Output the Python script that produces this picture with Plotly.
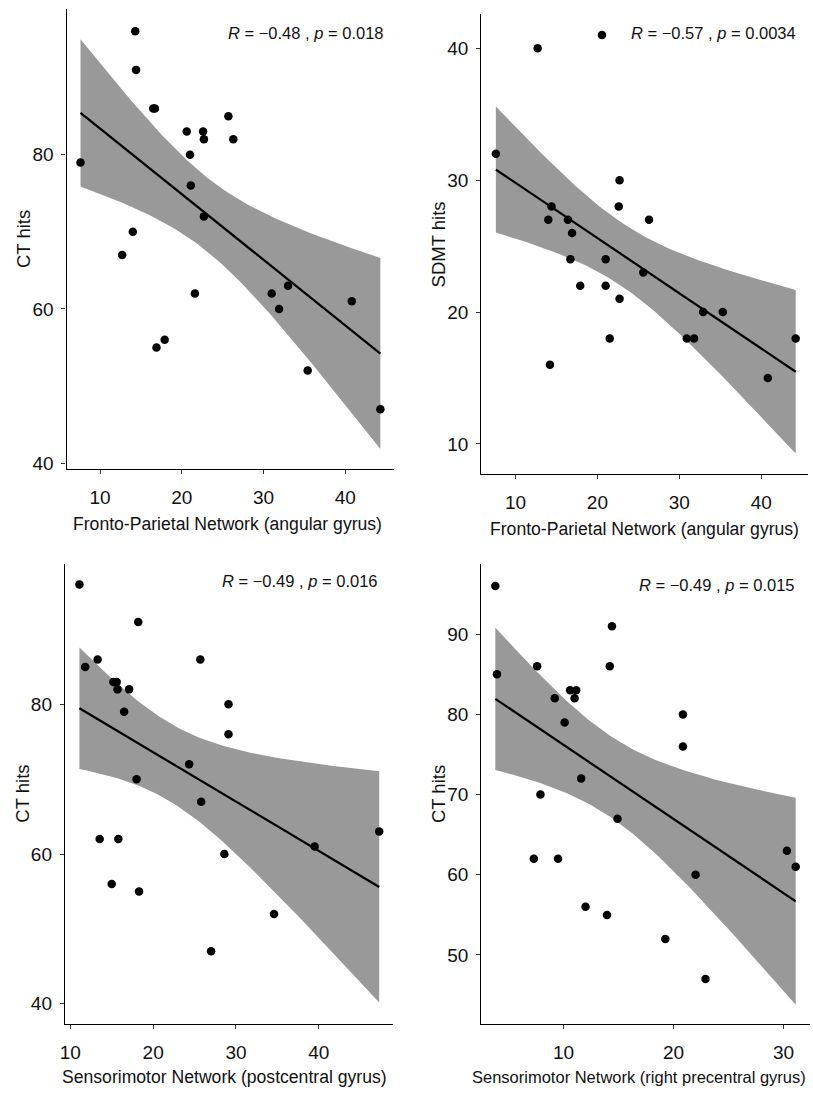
import math
import numpy as np
import plotly.graph_objects as go

# ---------------- data ----------------
# Panel 1: Fronto-Parietal Network (angular gyrus) vs CT hits
fp_ct_x = [7.6, 12.7, 14.0, 14.3, 14.4, 16.5, 16.7, 16.9, 17.9, 20.6, 21.0, 21.1,
           21.6, 22.6, 22.7, 22.7, 25.7, 26.3, 31.0, 31.9, 33.0, 35.4, 40.8, 44.3]
fp_ct_y = [79, 67, 70, 96, 91, 86, 86, 55, 56, 83, 80, 76,
           62, 83, 82, 72, 85, 82, 62, 60, 63, 52, 61, 47]

# Panel 2: Fronto-Parietal Network (angular gyrus) vs SDMT hits
fp_sdmt_x = [7.6, 12.7, 14.0, 14.2, 14.4, 16.4, 16.7, 16.9, 17.9, 20.55, 21.0, 21.0,
             21.5, 22.6, 22.7, 22.7, 25.6, 26.3, 30.9, 31.8, 32.9, 35.3, 40.8, 44.2]
fp_sdmt_y = [32, 40, 27, 16, 28, 27, 24, 26, 22, 41, 24, 22,
             18, 28, 30, 21, 23, 27, 18, 18, 20, 20, 15, 18]

# Panel 3: Sensorimotor Network (postcentral gyrus) vs CT hits
smpost_ct_x = [11.1, 11.8, 13.3, 13.55, 15.0, 15.2, 15.6, 15.7, 15.8, 16.5, 17.1, 18.0,
               18.2, 18.3, 24.35, 25.7, 25.8, 27.0, 28.6, 29.1, 29.1, 34.6, 39.5, 47.3]
smpost_ct_y = [96, 85, 86, 62, 56, 83, 83, 82, 62, 79, 82, 70,
               91, 55, 72, 86, 67, 47, 60, 80, 76, 52, 61, 63]

# Panel 4: Sensorimotor Network (right precentral gyrus) vs CT hits
smpre_ct_x = [3.8, 3.95, 7.3, 7.6, 7.9, 9.2, 9.5, 10.1, 10.6, 11.0, 11.15, 11.6,
              12.0, 13.95, 14.2, 14.4, 14.9, 19.25, 20.85, 20.85, 22.0, 22.9, 30.3, 31.1]
smpre_ct_y = [96, 85, 62, 86, 70, 82, 62, 79, 83, 82, 83, 72,
              56, 55, 86, 91, 67, 52, 80, 76, 60, 47, 63, 61]

x_titles = ["Fronto-Parietal Network (angular gyrus)",
            "Fronto-Parietal Network (angular gyrus)",
            "Sensorimotor Network (postcentral gyrus)",
            "Sensorimotor Network (right precentral gyrus)"]
y_titles = ["CT hits", "SDMT hits", "CT hits", "CT hits"]
cor_labels = ["<i>R</i> = \u22120.48 , <i>p</i> = 0.018",
              "<i>R</i> = \u22120.57 , <i>p</i> = 0.0034",
              "<i>R</i> = \u22120.49 , <i>p</i> = 0.016",
              "<i>R</i> = \u22120.49 , <i>p</i> = 0.015"]

panels_x = [fp_ct_x, fp_sdmt_x, smpost_ct_x, smpre_ct_x]
panels_y = [fp_ct_y, fp_sdmt_y, smpost_ct_y, smpre_ct_y]


# ---------------- statistics (lm fit + 95% CI, like geom_smooth) ----------------
def t_ppf(p, df):
    t = np.linspace(0, 40, 400001)
    c = math.exp(math.lgamma((df + 1) / 2) - math.lgamma(df / 2)) / math.sqrt(df * math.pi)
    pdf = c * (1 + t * t / df) ** (-(df + 1) / 2)
    cdf = 0.5 + np.concatenate([[0], np.cumsum((pdf[1:] + pdf[:-1]) / 2 * np.diff(t))])
    return float(np.interp(p, cdf, t))


def lm_band(x, y, n_grid=80):
    x = np.asarray(x, float)
    y = np.asarray(y, float)
    n = len(x)
    xb, yb = x.mean(), y.mean()
    sxx = ((x - xb) ** 2).sum()
    b1 = ((x - xb) * (y - yb)).sum() / sxx
    b0 = yb - b1 * xb
    s = math.sqrt(((y - b0 - b1 * x) ** 2).sum() / (n - 2))
    g = np.linspace(x.min(), x.max(), n_grid)
    fit = b0 + b1 * g
    se = s * np.sqrt(1 / n + (g - xb) ** 2 / sxx)
    tq = t_ppf(0.975, n - 2)
    return g, fit, fit - tq * se, fit + tq * se


# ---------------- layout geometry (pixels) ----------------
W, H = 813, 1095
# (left, right, top, bottom) of each plotting area in pixels
boxes = [(62, 391.7, 9, 471),
         (479.3, 807.7, 14, 476),
         (60.3, 390.7, 565.7, 1027.7),
         (479.3, 810, 565.7, 1027.7)]
x_ranges = [[5.9, 46.0], [5.83, 45.67], [9.35, 49.0], [2.53, 32.4]]
y_ranges = [[39.2, 98.9], [7.7, 42.6], [37.3, 98.8], [41.4, 98.8]]
y_dticks = [20, 10, 20, 10]
cor_pos = [(302.5, 33), (713, 33), (296.5, 583), (716.7, 587)]
ytitle_x = [18, 436, 18, 436]
xtitle_y = [526, 531, 1081, 1081]
xtitle_x = [223.5, 643, 221, 638]
xtitle_size = [17.6, 17.6, 17.6, 16.5]

FONT = "Liberation Sans Narrow, Arial Narrow, Liberation Sans, Arial, sans-serif"
TXT = "#111111"

fig = go.Figure()
annotations = []
layout = {}

for i in range(4):
    sfx = "" if i == 0 else str(i + 1)
    xa, ya = "x" + sfx, "y" + sfx
    g, fit, lo, hi = lm_band(panels_x[i], panels_y[i])
    fig.add_trace(go.Scatter(x=np.concatenate([g, g[::-1]]), y=np.concatenate([hi, lo[::-1]]),
                             fill="toself", fillcolor="#999999", line=dict(width=0),
                             mode="lines", hoverinfo="skip", showlegend=False,
                             xaxis=xa, yaxis=ya))
    fig.add_trace(go.Scatter(x=g, y=fit, mode="lines", line=dict(color="black", width=2.2),
                             showlegend=False, xaxis=xa, yaxis=ya))
    fig.add_trace(go.Scatter(x=panels_x[i], y=panels_y[i], mode="markers",
                             marker=dict(color="black", size=8.5), showlegend=False,
                             xaxis=xa, yaxis=ya))

    l, r, t, b = boxes[i]
    common = dict(showline=True, linecolor="black", linewidth=1.3, ticks="outside",
                  ticklen=4, tickwidth=1.2, tickcolor="#333333", showgrid=False,
                  zeroline=False, tickfont=dict(family=FONT, size=19, color=TXT))
    layout["xaxis" + sfx] = dict(domain=[l / W, r / W], anchor=ya, range=x_ranges[i],
                                 dtick=10, tick0=0, ticklabelstandoff=7, **common)
    layout["yaxis" + sfx] = dict(domain=[1 - b / H, 1 - t / H], anchor=xa, range=y_ranges[i],
                                 dtick=y_dticks[i], tick0=0, ticklabelstandoff=4, **common)

    annotations.append(dict(x=cor_pos[i][0] / W, y=1 - cor_pos[i][1] / H, xref="paper", yref="paper",
                            text=cor_labels[i], showarrow=False, xanchor="center", yanchor="middle",
                            font=dict(family=FONT, size=16.5, color=TXT)))
    annotations.append(dict(x=xtitle_x[i] / W, y=1 - xtitle_y[i] / H, xref="paper", yref="paper",
                            text=x_titles[i], showarrow=False, xanchor="center", yanchor="middle",
                            font=dict(family=FONT, size=xtitle_size[i], color=TXT)))
    annotations.append(dict(x=ytitle_x[i] / W, y=1 - (t + b) / 2 / H, xref="paper", yref="paper",
                            text=y_titles[i], showarrow=False, textangle=-90,
                            xanchor="center", yanchor="middle",
                            font=dict(family=FONT, size=18.5, color=TXT)))

fig.update_layout(width=W, height=H, margin=dict(l=0, r=0, t=0, b=0),
                  paper_bgcolor="white", plot_bgcolor="white",
                  annotations=annotations, showlegend=False, **layout)

fig.write_html("out.html")
